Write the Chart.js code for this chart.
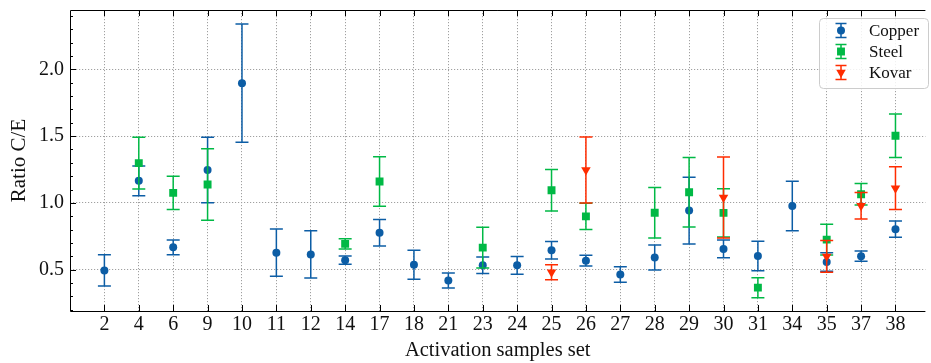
<!DOCTYPE html>
<html>
<head>
<meta charset="utf-8">
<title>Ratio C/E per activation samples set</title>
<script src="https://cdn.jsdelivr.net/npm/chart.js@4.4.1/dist/chart.umd.min.js"></script>
<style>
  html, body { margin: 0; padding: 0; background: #ffffff; }
  #wrap { width: 931px; height: 363px; position: relative; }
  .fontprobe { position: absolute; left: -9999px; top: 0; font-family: 'Liberation Serif'; font-size: 20px; }
</style>
</head>
<body>
<div id="wrap"><canvas id="chart" width="931" height="363"></canvas></div>
<span class="fontprobe">Activation 0.5 Copper</span>
<script>
// Activation samples sets (x categories)
const categories = ['2', '4', '6', '9', '10', '11', '12', '14', '17', '18', '21', '23',
                    '24', '25', '26', '27', '28', '29', '30', '31', '34', '35', '37', '38'];

// Ratio C/E and its uncertainty, one entry per set (null = not measured)
const copperRatio = [0.494, 1.165, 0.667, 1.246, 1.897, 0.627, 0.614, 0.571, 0.776, 0.536, 0.418, 0.533,
                     0.532, 0.645, 0.567, 0.464, 0.591, 0.942, 0.655, 0.602, 0.977, 0.557, 0.601, 0.803];
const copperErr   = [0.117, 0.112, 0.055, 0.245, 0.443, 0.177, 0.177, 0.031, 0.099, 0.109, 0.056, 0.062,
                     0.067, 0.065, 0.040, 0.058, 0.094, 0.250, 0.067, 0.110, 0.185, 0.070, 0.039, 0.061];

const steelRatio = [null, 1.298, 1.075, 1.138, null, null, null, 0.693, 1.160, null, null, 0.665,
                    null, 1.095, 0.899, null, 0.926, 1.080, 0.925, 0.365, null, 0.725, 1.065, 1.503];
const steelErr   = [null, 0.194, 0.125, 0.268, null, null, null, 0.039, 0.185, null, null, 0.153,
                    null, 0.155, 0.099, null, 0.189, 0.260, 0.180, 0.075, null, 0.115, 0.080, 0.163];

const kovarRatio = [null, null, null, null, null, null, null, null, null, null, null, null,
                    null, 0.481, 1.247, null, null, null, 1.040, null, null, 0.599, 0.979, 1.110];
const kovarErr   = [null, null, null, null, null, null, null, null, null, null, null, null,
                    null, 0.056, 0.247, null, null, null, 0.303, null, null, 0.119, 0.099, 0.160];

// Labelled y ticks and minor tick spacing
const yMajorTicks = [0.5, 1.0, 1.5, 2.0];
const yMinorStep = 0.1;

const FONT_FAMILY = "'Liberation Serif', 'DejaVu Serif', serif";
const TEXT_COLOR = '#111111';

function toPoints(values, errors) {
  const pts = [];
  values.forEach((v, i) => {
    if (v !== null) pts.push({ x: i + 1, y: v, err: errors[i] });
  });
  return pts;
}

// Vertical error bars with caps, drawn just before each dataset's markers
const errorBars = {
  id: 'errorBars',
  beforeDatasetDraw(chart, args) {
    const ds = chart.data.datasets[args.index];
    const ys = chart.scales.y;
    const ctx = chart.ctx;
    const cap = 6.5;
    ctx.save();
    ctx.strokeStyle = ds.borderColor;
    ctx.lineWidth = 1.5;
    args.meta.data.forEach((el, i) => {
      const p = ds.data[i];
      const x = el.x;
      const yt = ys.getPixelForValue(p.y + p.err);
      const yb = ys.getPixelForValue(p.y - p.err);
      ctx.beginPath();
      ctx.moveTo(x, yt); ctx.lineTo(x, yb);
      ctx.moveTo(x - cap, yt); ctx.lineTo(x + cap, yt);
      ctx.moveTo(x - cap, yb); ctx.lineTo(x + cap, yb);
      ctx.stroke();
    });
    ctx.restore();
  }
};

// Frame lines and inward-pointing tick marks
const frameTicks = {
  id: 'frameTicks',
  afterDatasetsDraw(chart) {
    const { ctx, chartArea: a, scales: { x, y } } = chart;
    ctx.save();
    ctx.strokeStyle = '#000000';
    ctx.lineWidth = 1;
    ctx.beginPath();
    ctx.moveTo(a.left + 0.5, a.top + 0.5); ctx.lineTo(a.right, a.top + 0.5);
    ctx.moveTo(a.left + 0.5, a.top + 0.5); ctx.lineTo(a.left + 0.5, a.bottom + 0.5);
    ctx.moveTo(a.left + 0.5, a.bottom + 0.5); ctx.lineTo(a.right, a.bottom + 0.5);
    ctx.stroke();

    ctx.beginPath();
    categories.forEach((c, i) => {
      const px = Math.round(x.getPixelForValue(i + 1)) + 0.5;
      ctx.moveTo(px, a.bottom); ctx.lineTo(px, a.bottom - 6);
      ctx.moveTo(px, a.top); ctx.lineTo(px, a.top + 6);
    });
    yMajorTicks.forEach(v => {
      const py = Math.round(y.getPixelForValue(v)) + 0.5;
      ctx.moveTo(a.left, py); ctx.lineTo(a.left + 6, py);
    });
    for (let k = Math.ceil(y.min / yMinorStep); k * yMinorStep <= y.max; k++) {
      const v = k * yMinorStep;
      if (yMajorTicks.some(m => Math.abs(m - v) < 1e-6)) continue;
      const py = Math.round(y.getPixelForValue(v)) + 0.5;
      ctx.moveTo(a.left, py); ctx.lineTo(a.left + 3, py);
    }
    ctx.stroke();
    ctx.restore();
  }
};

// Framed legend in the upper right corner of the plot
const legendBox = {
  id: 'legendBox',
  afterDraw(chart) {
    const ctx = chart.ctx;
    const bx = 819.5, by = 18.5, bw = 109, bh = 70, r = 4;
    ctx.save();
    ctx.beginPath();
    ctx.moveTo(bx + r, by);
    ctx.lineTo(bx + bw - r, by); ctx.arcTo(bx + bw, by, bx + bw, by + r, r);
    ctx.lineTo(bx + bw, by + bh - r); ctx.arcTo(bx + bw, by + bh, bx + bw - r, by + bh, r);
    ctx.lineTo(bx + r, by + bh); ctx.arcTo(bx, by + bh, bx, by + bh - r, r);
    ctx.lineTo(bx, by + r); ctx.arcTo(bx, by, bx + r, by, r);
    ctx.closePath();
    ctx.fillStyle = 'rgba(255,255,255,0.85)';
    ctx.fill();
    ctx.strokeStyle = '#cccccc';
    ctx.lineWidth = 1;
    ctx.stroke();

    chart.data.datasets.forEach((ds, i) => {
      const cx = 841, cy = 30.5 + i * 21;
      ctx.strokeStyle = ds.borderColor;
      ctx.fillStyle = ds.backgroundColor;
      ctx.lineWidth = 1.5;
      ctx.beginPath();
      ctx.moveTo(cx, cy - 7); ctx.lineTo(cx, cy + 7);
      ctx.moveTo(cx - 5.5, cy - 7); ctx.lineTo(cx + 5.5, cy - 7);
      ctx.moveTo(cx - 5.5, cy + 7); ctx.lineTo(cx + 5.5, cy + 7);
      ctx.stroke();
      Chart.helpers.drawPoint(ctx, {
        pointStyle: ds.pointStyle, radius: ds.pointRadius,
        rotation: ds.rotation || 0, borderWidth: 0
      }, cx, cy);
      ctx.fillStyle = TEXT_COLOR;
      ctx.font = '17px ' + FONT_FAMILY;
      ctx.textBaseline = 'middle';
      ctx.textAlign = 'left';
      ctx.fillText(ds.label, 869, cy + 1);
    });
    ctx.restore();
  }
};

function drawChart() {
  new Chart(document.getElementById('chart'), {
    type: 'scatter',
    data: {
      datasets: [
        { label: 'Copper', data: toPoints(copperRatio, copperErr), order: 3,
          pointStyle: 'circle', pointRadius: 4, pointHoverRadius: 4,
          backgroundColor: '#0C5DA5', borderColor: '#0C5DA5', borderWidth: 0 },
        { label: 'Steel', data: toPoints(steelRatio, steelErr), order: 2,
          pointStyle: 'rect', pointRadius: 5.6, pointHoverRadius: 5.6,
          backgroundColor: '#00B945', borderColor: '#00B945', borderWidth: 0 },
        { label: 'Kovar', data: toPoints(kovarRatio, kovarErr), order: 1,
          pointStyle: 'triangle', rotation: 180, pointRadius: 5.5, pointHoverRadius: 5.5,
          backgroundColor: '#FF2C00', borderColor: '#FF2C00', borderWidth: 0 }
      ]
    },
    options: {
      responsive: false,
      devicePixelRatio: 1,
      animation: false,
      events: [],
      layout: { padding: { top: 10, right: 0, bottom: 0, left: 0 } },
      plugins: { legend: { display: false }, tooltip: { enabled: false } },
      scales: {
        x: {
          type: 'linear',
          min: 0,
          max: 24.87,
          afterBuildTicks(scale) { scale.ticks = categories.map((c, i) => ({ value: i + 1 })); },
          afterFit(scale) {
            scale.height = 52;
            scale.paddingLeft = 0; scale.paddingRight = 0;
          },
          ticks: {
            autoSkip: false, maxRotation: 0, padding: 2, color: TEXT_COLOR,
            font: { family: FONT_FAMILY, size: 20 },
            callback: (v) => categories[v - 1]
          },
          grid: { drawTicks: false, color: '#a0a0a0', lineWidth: 1 },
          border: { display: false, dash: [1.2, 1.8] },
          title: {
            display: true, text: 'Activation samples set', color: TEXT_COLOR,
            font: { family: FONT_FAMILY, size: 20.5 }, padding: { top: 0, bottom: 0 }
          }
        },
        y: {
          min: 0.19,
          max: 2.445,
          afterBuildTicks(scale) { scale.ticks = yMajorTicks.map(v => ({ value: v })); },
          afterFit(scale) {
            scale.width = 70;
            scale.paddingTop = 0; scale.paddingBottom = 0;
          },
          ticks: {
            padding: 6, color: TEXT_COLOR,
            font: { family: FONT_FAMILY, size: 20 },
            callback: (v) => v.toFixed(1)
          },
          grid: { drawTicks: false, color: '#a0a0a0', lineWidth: 1 },
          border: { display: false, dash: [1.2, 1.8] },
          title: {
            display: true, text: 'Ratio C/E', color: TEXT_COLOR,
            font: { family: FONT_FAMILY, size: 21 }, padding: { top: 7, bottom: 0 }
          }
        }
      }
    },
    plugins: [errorBars, frameTicks, legendBox]
  });
}

// Make sure the serif face is ready before the canvas text is drawn
if (document.fonts && document.fonts.load) {
  Promise.all([
    document.fonts.load("20px 'Liberation Serif'"),
    document.fonts.load("20px 'DejaVu Serif'")
  ]).then(drawChart, drawChart);
} else {
  drawChart();
}
</script>
</body>
</html>
